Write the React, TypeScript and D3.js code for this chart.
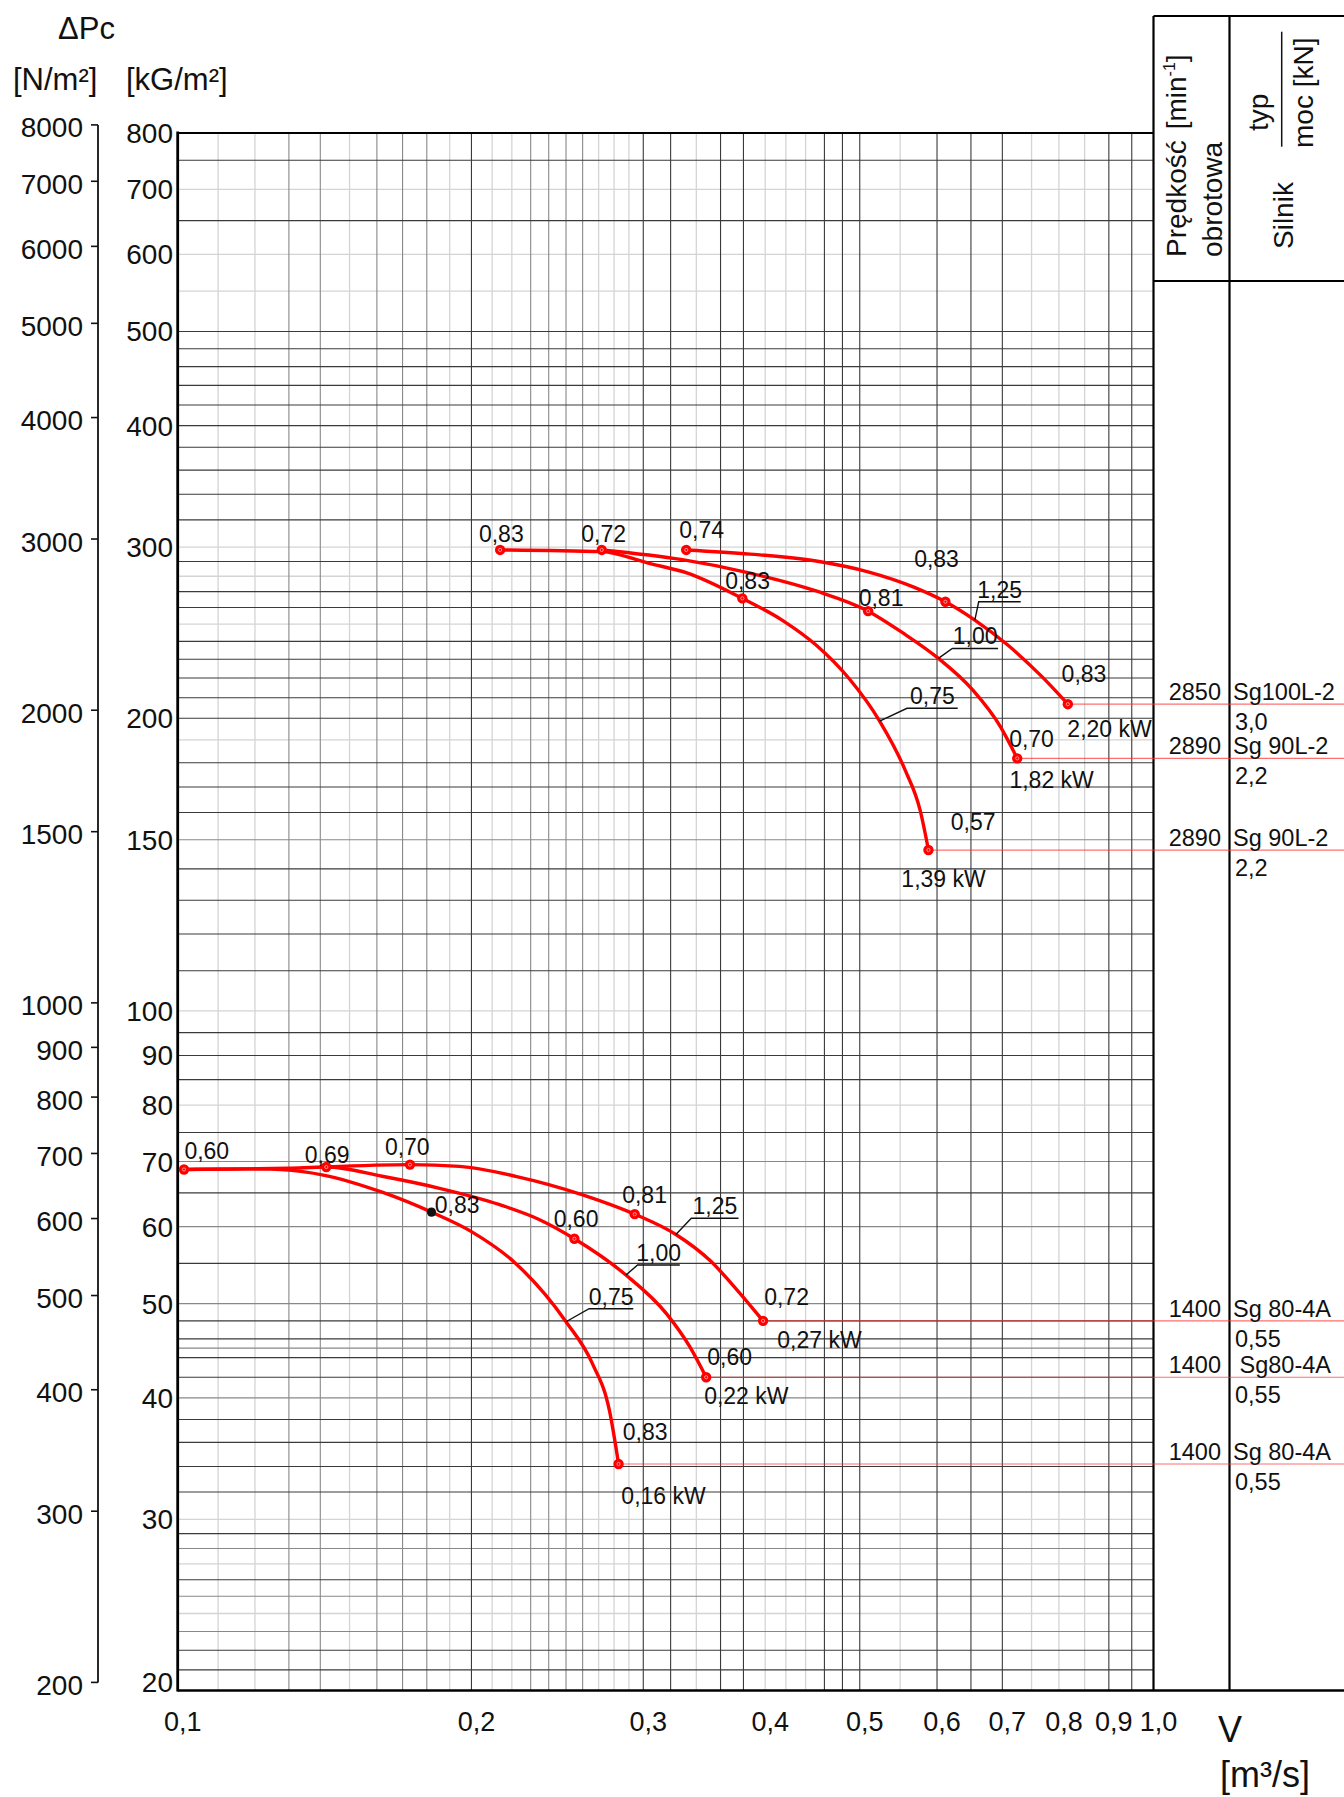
import React from "react";
import * as d3 from "d3";

const FONT = "'Liberation Sans', Arial, Helvetica, sans-serif";

// ---- axes ----
const xTickValues = [0.1, 0.2, 0.3, 0.4, 0.5, 0.6, 0.7, 0.8, 0.9, 1.0];
const xTickLabels = ["0,1", "0,2", "0,3", "0,4", "0,5", "0,6", "0,7", "0,8", "0,9", "1,0"];
const yKgTicks = [800, 700, 600, 500, 400, 300, 200, 150, 100, 90, 80, 70, 60, 50, 40, 30, 20];
const yNTicks = [8000, 7000, 6000, 5000, 4000, 3000, 2000, 1500, 1000, 900, 800, 700, 600, 500, 400, 300, 200];

// ---- grid (log paper) ----
const xGridDark = [0.2, 0.3, 0.32, 0.36, 0.38, 0.46, 0.48, 0.5, 0.6, 0.65, 0.7, 0.9, 0.95];
const xGridMid = [0.13, 0.14, 0.16, 0.17, 0.18, 0.23, 0.24, 0.25, 0.26];
const xGridLight = [0.11, 0.12, 0.15, 0.19, 0.21, 0.22, 0.27, 0.28, 0.29, 0.34, 0.4, 0.42, 0.44, 0.55, 0.75, 0.8, 0.85];
const yGridDark = [21, 22, 26, 29, 32, 34, 36, 38, 42, 44, 46, 48, 55, 65, 75, 85, 90, 95, 110, 120, 130, 140, 160, 170, 180,
  200, 210, 220, 230, 240, 260, 270, 290, 320, 340, 360, 380, 400, 420, 440, 460, 480, 500, 650, 750];
const yGridMid = [23, 25, 28, 40, 45, 50, 60, 70, 150];
const yGridLight = [24, 27, 30, 80, 100, 190, 250, 280, 300, 550, 600, 700];

// ---- fan curves: flow V [m3/s], pressure [kG/m2] ----
const u3Q = [0.332, 0.386, 0.451, 0.511, 0.568, 0.612, 0.656, 0.709, 0.769, 0.817];
const u3P = [298.0, 295.1, 290.3, 282.8, 272.9, 263.6, 252.4, 237.9, 220.6, 206.8];
const u2Q = [0.272, 0.329, 0.386, 0.451, 0.510, 0.554, 0.602, 0.653, 0.697, 0.725];
const u2P = [298.0, 291.2, 282.1, 270.4, 257.8, 244.7, 230.5, 213.8, 196.0, 181.9];
const u1Q = [0.214, 0.272, 0.304, 0.333, 0.379, 0.417, 0.451, 0.488, 0.524, 0.556, 0.5767, 0.588];
const u1P = [298.0, 296.8, 288.7, 282.1, 265.7, 252.1, 237.9, 219.5, 198.7, 177.3, 160.7, 146.4];
const l3Q = [0.142, 0.173, 0.1945, 0.222, 0.260, 0.294, 0.324, 0.351, 0.374, 0.398];
const l3P = [69.1, 69.5, 69.2, 67.6, 64.7, 61.8, 58.9, 55.4, 51.7, 48.0];
const l2Q = [0.1015, 0.1185, 0.130, 0.142, 0.162, 0.1855, 0.2138, 0.2349, 0.255, 0.288, 0.317, 0.335, 0.348];
const l2P = [68.7, 68.8, 68.9, 69.1, 67.6, 65.7, 63.2, 61.0, 58.3, 53.5, 48.8, 45.1, 42.0];
const l1Q = [0.1015, 0.1185, 0.130, 0.141, 0.162, 0.182, 0.200, 0.222, 0.250, 0.266, 0.277, 0.283];
const l1P = [68.7, 68.8, 68.6, 67.8, 65.1, 62.1, 59.3, 55.0, 47.9, 43.4, 38.8, 34.2];

// measured points (red) and one black point
const markQ = [0.332, 0.612, 0.817, 0.272, 0.510, 0.725, 0.214, 0.379, 0.588, 0.173, 0.294, 0.398, 0.142, 0.255, 0.348, 0.1015, 0.283];
const markP = [298.0, 263.6, 206.8, 298.0, 257.8, 181.9, 298.0, 265.7, 146.4, 69.5, 61.8, 48.0, 69.1, 58.3, 42.0, 68.7, 34.2];
const blackQ = [0.182];
const blackP = [62.1];

// efficiency / power labels (centre of text baseline, in data units)
const labelText = ["0,83", "0,72", "0,74", "0,83", "0,83", "0,81", "0,83", "2,20 kW", "0,70", "1,82 kW", "0,57", "1,39 kW",
  "0,60", "0,69", "0,70", "0,83", "0,60", "0,81", "0,72", "0,27 kW", "0,60", "0,22 kW", "0,83", "0,16 kW"];
const labelQ = [0.2146, 0.2732, 0.3443, 0.3837, 0.5993, 0.5258, 0.8487, 0.9015, 0.7499, 0.7863, 0.6533, 0.6093,
  0.1071, 0.1423, 0.1719, 0.1934, 0.256, 0.3009, 0.4207, 0.4547, 0.3678, 0.3826, 0.3013, 0.3147];
const labelP = [303.7, 303.7, 306.6, 271.4, 286.3, 260.9, 218.1, 191.4, 187.0, 169.4, 153.5, 134.0,
  70.35, 69.8, 71.1, 62.0, 59.9, 63.4, 49.8, 45.0, 43.2, 39.4, 36.2, 31.1];

// blade setting leaders: curve point -> elbow -> end of underline
const leaderText = ["1,25", "1,00", "0,75", "1,25", "1,00", "0,75"];
const leaderQ = [[0.656, 0.662, 0.731], [0.602, 0.622, 0.693], [0.524, 0.559, 0.630],
  [0.324, 0.336, 0.3756], [0.288, 0.296, 0.327], [0.250, 0.264, 0.293]];
const leaderP = [[252.4, 263.6, 263.6], [230.5, 236.0, 236.0], [198.7, 204.8, 204.8],
  [58.9, 61.2, 61.2], [53.5, 54.8, 54.8], [47.9, 49.4, 49.4]];

// motor table (rows follow the curve end points)
const rowSpeed = ["2850", "2890", "2890", "1400", "1400", "1400"];
const rowType = ["Sg100L-2", "Sg 90L-2", "Sg 90L-2", "Sg 80-4A", "\u00a0Sg80-4A", "Sg 80-4A"];
const rowPower = ["3,0", "2,2", "2,2", "0,55", "0,55", "0,55"];

export default function App() {
  const W = 1344, H = 1797;
  const left = 177.7, right = 1153.5, top = 133, bottom = 1690.5;
  const x = d3.scaleLog().domain([0.1, 1]).range([left, right]);
  const y = d3.scaleLog().domain([20, 800]).range([bottom, top]);
  const line = d3.line<[number, number]>().x(d => x(d[0])).y(d => y(d[1])).curve(d3.curveMonotoneX);
  const curves: [number[], number[]][] = [[u3Q, u3P], [u2Q, u2P], [u1Q, u1P], [l3Q, l3P], [l2Q, l2P], [l1Q, l1P]];
  const colX = 1229.5;
  const axisNx = 98;

  const vGrid = (vals: number[], stroke: string, sw: number, key: string) =>
    vals.map((v, i) => <line key={key + i} x1={x(v)} x2={x(v)} y1={top} y2={bottom} stroke={stroke} strokeWidth={sw} />);
  const hGrid = (vals: number[], stroke: string, sw: number, key: string) =>
    vals.map((v, i) => <line key={key + i} x1={left} x2={right} y1={y(v)} y2={y(v)} stroke={stroke} strokeWidth={sw} />);

  return (
    <svg width={W} height={H} style={{ position: "absolute", left: 0, top: 0, background: "#fff" }} fontFamily={FONT}>
      <rect x={0} y={0} width={W} height={H} fill="#fff" />
      {/* grid */}
      {vGrid(xGridLight, "#d4d4d4", 1.3, "xl")}
      {hGrid(yGridLight, "#d4d4d4", 1.3, "yl")}
      {vGrid(xGridMid, "#888", 1.1, "xm")}
      {hGrid(yGridMid, "#888", 1.1, "ym")}
      {vGrid(xGridDark, "#3a3a3a", 1.1, "xd")}
      {hGrid(yGridDark, "#3a3a3a", 1.1, "yd")}

      {/* frame and table */}
      <line x1={left} x2={left} y1={top - 1.5} y2={bottom + 1} stroke="#000" strokeWidth={2.8} />
      <line x1={left} x2={right} y1={top} y2={top} stroke="#000" strokeWidth={2.2} />
      <line x1={left} x2={W} y1={bottom} y2={bottom} stroke="#000" strokeWidth={2.4} />
      <line x1={right} x2={right} y1={16} y2={bottom} stroke="#000" strokeWidth={2.2} />
      <line x1={colX} x2={colX} y1={16} y2={bottom} stroke="#000" strokeWidth={2.2} />
      <line x1={right} x2={W} y1={16} y2={16} stroke="#000" strokeWidth={2.2} />
      <line x1={right} x2={W} y1={281} y2={281} stroke="#000" strokeWidth={2.2} />

      {/* table header */}
      <text transform={`translate(1186,257) rotate(-90)`} fontSize={28} fill="#111">
        Prędkość<tspan dx={11}>[min</tspan><tspan fontSize={16} dy={-11}>-1</tspan><tspan dy={11}>]</tspan>
      </text>
      <text transform={`translate(1222,257) rotate(-90)`} fontSize={28} fill="#111">obrotowa</text>
      <text transform={`translate(1293,249) rotate(-90)`} fontSize={28} fill="#111">Silnik</text>
      <text transform={`translate(1268,131) rotate(-90)`} fontSize={28} fill="#111">typ</text>
      <line x1={1281.7} x2={1281.7} y1={146.7} y2={31.7} stroke="#111" strokeWidth={1.5} />
      <text transform={`translate(1313,148) rotate(-90)`} fontSize={28} fill="#111">moc [kN]</text>

      {/* left titles */}
      <text x={58} y={39} fontSize={31} fill="#111">ΔPc</text>
      <text x={13} y={90} fontSize={31} fill="#111">[N/m²]</text>
      <text x={126} y={90} fontSize={31} fill="#111">[kG/m²]</text>

      {/* kG/m2 axis labels */}
      {yKgTicks.map((v, i) => (
        <text key={"kg" + i} x={173} y={Math.min(y(v), bottom - 9) + 10} fontSize={28} textAnchor="end" fill="#111">{v}</text>
      ))}
      {/* N/m2 axis */}
      <line x1={axisNx} x2={axisNx} y1={y(yNTicks[0] / 9.81)} y2={y(yNTicks[yNTicks.length - 1] / 9.81)} stroke="#111" strokeWidth={1.8} />
      {yNTicks.map((v, i) => (
        <g key={"n" + i}>
          <line x1={axisNx - 7} x2={axisNx} y1={y(v / 9.81)} y2={y(v / 9.81)} stroke="#111" strokeWidth={1.6} />
          <text x={83} y={y(v / 9.81) + 12.5} fontSize={28} textAnchor="end" fill="#111">{v}</text>
        </g>
      ))}

      {/* x axis labels */}
      {xTickValues.map((v, i) => (
        <text key={"xt" + i} x={x(v) + 5} y={1731} fontSize={27} textAnchor="middle" fill="#111">{xTickLabels[i]}</text>
      ))}
      <text x={1218} y={1742} fontSize={36} fill="#111">V</text>
      <text x={1220} y={1787} fontSize={36} fill="#111">[m³/s]</text>

      {/* reference lines from end points to table */}
      {curves.map(([q, p], i) => (
        <line key={"ref" + i} x1={x(q[q.length - 1])} x2={W} y1={y(p[p.length - 1])} y2={y(p[p.length - 1])}
          stroke="#ff3030" strokeOpacity={0.7} strokeWidth={1.2} />
      ))}

      {/* curves */}
      {curves.map(([q, p], i) => (
        <path key={"c" + i} d={line(q.map((v, j) => [v, p[j]] as [number, number])) || ""} fill="none" stroke="#f00" strokeWidth={3.4} strokeLinecap="round" />
      ))}

      {/* leaders */}
      {leaderText.map((t, i) => {
        const pts = leaderQ[i].map((v, j) => `${x(v)},${y(leaderP[i][j])}`).join(" ");
        const ex = x(leaderQ[i][1]), ex2 = x(leaderQ[i][2]), ey = y(leaderP[i][1]);
        return (
          <g key={"ld" + i}>
            <polyline points={pts} fill="none" stroke="#111" strokeWidth={1.4} />
            <text x={(ex + ex2) / 2} y={ey - 4} fontSize={23} textAnchor="middle" fill="#111">{t}</text>
          </g>
        );
      })}

      {/* markers */}
      {markQ.map((v, i) => (
        <g key={"m" + i}>
          <circle cx={x(v)} cy={y(markP[i])} r={5.2} fill="#f00" />
          <circle cx={x(v)} cy={y(markP[i])} r={1.6} fill="none" stroke="#ffb4b4" strokeWidth={0.8} />
        </g>
      ))}
      {blackQ.map((v, i) => (
        <circle key={"b" + i} cx={x(v)} cy={y(blackP[i])} r={4.6} fill="#111" />
      ))}

      {/* point labels */}
      {labelText.map((t, i) => (
        <text key={"lb" + i} x={x(labelQ[i])} y={y(labelP[i])} fontSize={23} textAnchor="middle" fill="#111">{t}</text>
      ))}

      {/* motor table rows */}
      {curves.map(([q, p], i) => {
        const ry = y(p[p.length - 1]);
        return (
          <g key={"row" + i}>
            <text x={1221} y={ry - 4} fontSize={23.5} textAnchor="end" fill="#111">{rowSpeed[i]}</text>
            <text x={1233} y={ry - 4} fontSize={23.5} fill="#111">{rowType[i]}</text>
            <text x={1235} y={ry + 26} fontSize={23.5} fill="#111">{rowPower[i]}</text>
          </g>
        );
      })}
    </svg>
  );
}
